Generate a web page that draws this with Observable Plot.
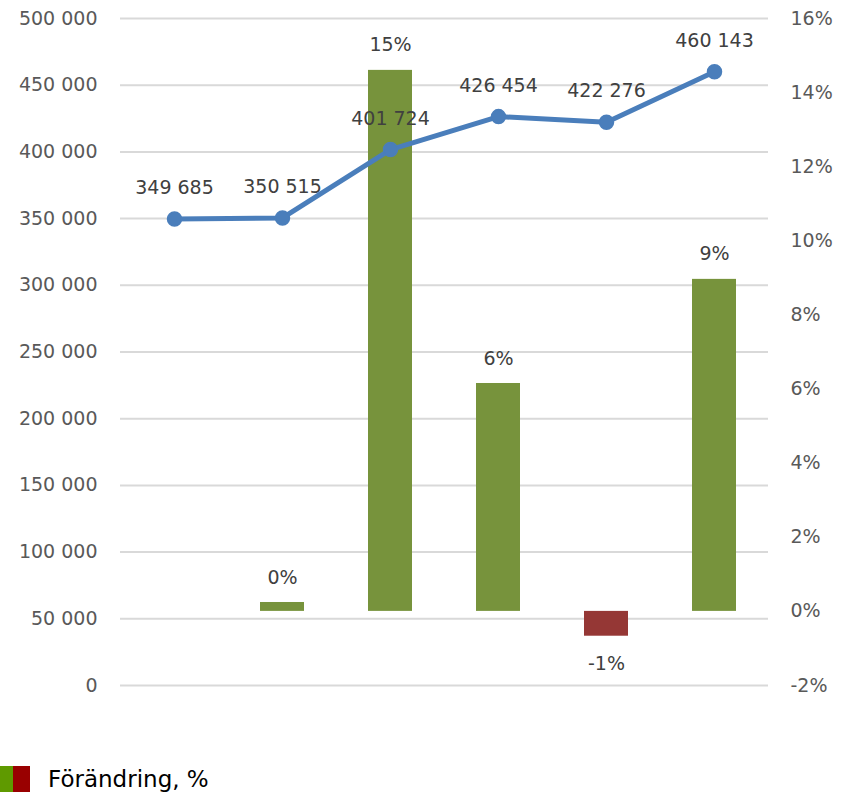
<!DOCTYPE html>
<html>
<head>
<meta charset="utf-8">
<script src="https://cdn.jsdelivr.net/npm/d3@7"></script>
<script src="https://cdn.jsdelivr.net/npm/@observablehq/plot@0.6"></script>
<style>
  html, body { margin: 0; padding: 0; background: #fff; }
  #wrap { position: relative; width: 847px; height: 794px; }
  #legend { position: absolute; left: 0; top: 766px; display: flex; align-items: center; font-family: "DejaVu Sans", sans-serif; font-size: 23px; color: #000; }
  #legend .sw { width: 13px; height: 26px; }
  #legend .sw2 { width: 17px; height: 26px; margin-right: 18px; }
</style>
</head>
<body>
<div id="wrap">
  <div id="chart"></div>
  <div id="legend"><div class="sw" style="background:#5f9a00"></div><div class="sw2" style="background:#990000"></div><span>Förändring, %</span></div>
</div>
<script>
// Data
const categories = ["1", "2", "3", "4", "5", "6"];
const totals = [349685, 350515, 401724, 426454, 422276, 460143];
const changePct = [null, 0.24, 14.6, 6.15, -0.67, 8.96];
const changeLabels = ["", "0%", "15%", "6%", "-1%", "9%"];
const leftTicks = [0, 50000, 100000, 150000, 200000, 250000, 300000, 350000, 400000, 450000, 500000];
const rightTicks = [-2, 0, 2, 4, 6, 8, 10, 12, 14, 16];

// Secondary axis mapping: right [-2, 16] onto left [0, 500000]
const leftMax = 500000, pMin = -2, pMax = 16;
const toLeft = p => (p - pMin) / (pMax - pMin) * leftMax;
const fromLeft = v => v / leftMax * (pMax - pMin) + pMin;

const lineData = categories.map((c, i) => ({cat: c, value: totals[i]}));
const barData = categories.map((c, i) => ({cat: c, pct: changePct[i], label: changeLabels[i]})).filter(d => d.pct != null);

const fmtSpace = v => d3.format(",")(v).replace(/,/g, " ");

const green = "#77933c", red = "#953735", blue = "#4a7ebb";

const chart = Plot.plot({
  width: 847,
  height: 745,
  marginLeft: 120,
  marginRight: 79,
  marginTop: 18,
  marginBottom: 60,
  style: {fontFamily: "DejaVu Sans, sans-serif", fontSize: "19px", background: "#fff"},
  x: {domain: categories, paddingInner: 0.59, paddingOuter: 0.295, axis: null},
  y: {domain: [0, leftMax], axis: null},
  marks: [
    Plot.ruleY(leftTicks, {stroke: "#d9d9d9", strokeWidth: 2}),
    Plot.axisY(leftTicks, {anchor: "left", label: null, tickSize: 0, tickPadding: 23, tickFormat: fmtSpace, fill: "#595959", fontSize: 19}),
    Plot.axisY(rightTicks.map(toLeft), {anchor: "right", label: null, tickSize: 0, tickPadding: 22, textAnchor: "start", tickFormat: v => Math.round(fromLeft(v)) + "%", fill: "#595959", fontSize: 19}),
    Plot.barY(barData, {x: "cat", y1: () => toLeft(0), y2: d => toLeft(d.pct), fill: d => d.pct < 0 ? red : green}),
    Plot.text(barData.filter(d => d.pct >= 0), {x: "cat", y: d => toLeft(d.pct), text: "label", dy: -25, fill: "#404040", fontSize: 19}),
    Plot.text(barData.filter(d => d.pct < 0), {x: "cat", y: d => toLeft(d.pct), text: "label", dy: 28, fill: "#404040", fontSize: 19}),
    Plot.line(lineData, {x: "cat", y: "value", stroke: blue, strokeWidth: 5, strokeLinejoin: "round"}),
    Plot.dot(lineData, {x: "cat", y: "value", r: 7, fill: blue, stroke: blue}),
    Plot.text(lineData, {x: "cat", y: "value", text: d => fmtSpace(d.value), dy: -31, fill: "#404040", fontSize: 19})
  ]
});
document.getElementById("chart").appendChild(chart);
</script>
</body>
</html>
